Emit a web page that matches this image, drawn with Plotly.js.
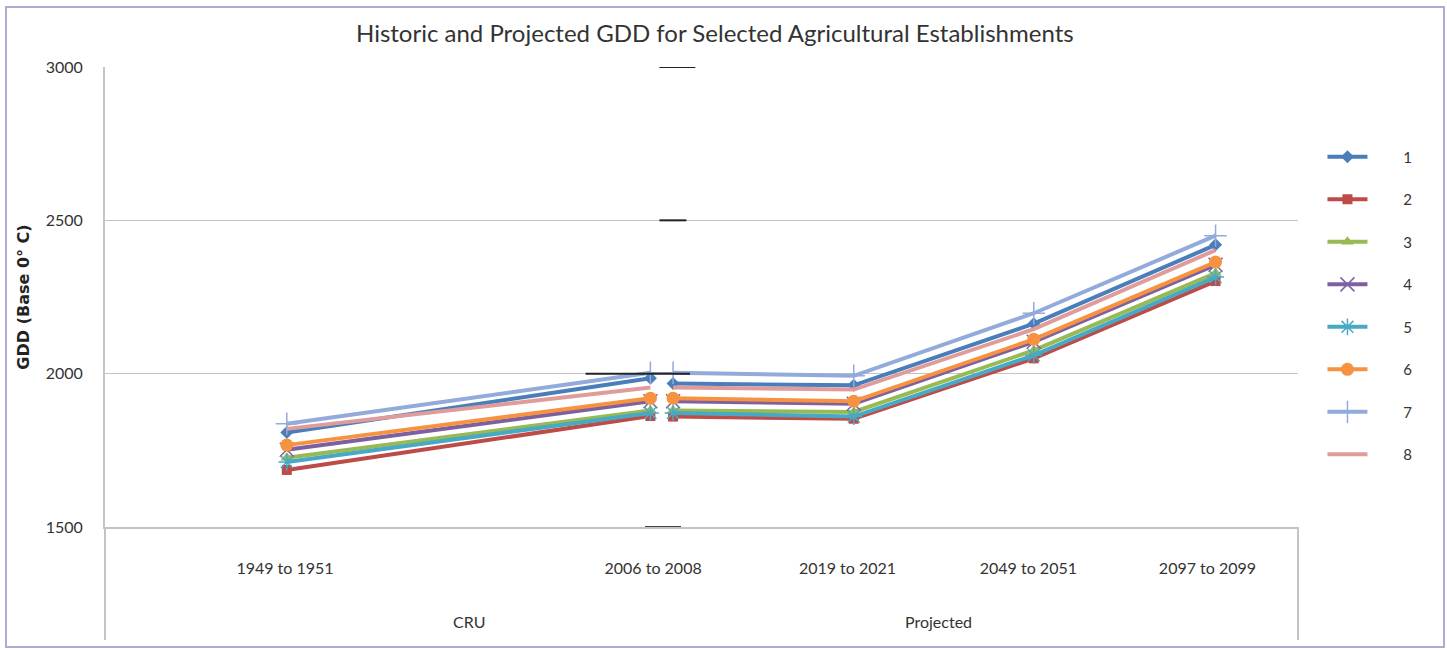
<!DOCTYPE html>
<html>
<head>
<meta charset="utf-8">
<script src="https://cdn.plot.ly/plotly-3.0.1.min.js"></script>
<style>
  html, body { margin: 0; padding: 0; background: #ffffff; }
  #chart { width: 1447px; height: 650px; }
</style>
</head>
<body>
<div id="chart"></div>
<script>
// Category positions along the period axis (CRU block, then Projected block)
const cruPos = [1.01, 3.03];
const projPos = [3.156, 4.16, 5.16, 6.17];
const periodLabelPos = [1.0, 3.045, 4.125, 5.13, 6.125];
const periodLabels = ['1949 to 1951', '2006 to 2008', '2019 to 2021', '2049 to 2051', '2097 to 2099'];
const groupLabels = ['CRU', 'Projected'];
const groupLabelPos = [2.02, 4.63];

const seriesNames = ['1', '2', '3', '4', '5', '6', '7', '8'];

// GDD (base 0 °C): CRU observations (1949-51, 2006-08)
const cru1 = [1808, 1985];
const cru2 = [1686, 1862];
const cru3 = [1726, 1880];
const cru4 = [1752, 1910];
const cru5 = [1712, 1872];
const cru6 = [1767, 1920];
const cru7 = [1837, 2003];
const cru8 = [1820, 1955];

// GDD (base 0 °C): projections (2006-08, 2019-21, 2049-51, 2097-99)
const proj1 = [1968, 1962, 2163, 2420];
const proj2 = [1860, 1853, 2050, 2302];
const proj3 = [1880, 1875, 2076, 2328];
const proj4 = [1910, 1902, 2104, 2355];
const proj5 = [1872, 1860, 2060, 2315];
const proj6 = [1920, 1910, 2112, 2364];
const proj7 = [2003, 1993, 2197, 2450];
const proj8 = [1955, 1948, 2145, 2403];

const cruSeries = [cru1, cru2, cru3, cru4, cru5, cru6, cru7, cru8];
const projSeries = [proj1, proj2, proj3, proj4, proj5, proj6, proj7, proj8];

const colors = ['#4A7EBB', '#BE4B48', '#98B954', '#7D60A0', '#46AAC5', '#F69240', '#92ABDB', '#E09C9B'];
const symbols = ['diamond', 'square', 'triangle-up', 'x-thin-open', 'asterisk-open', 'circle', 'cross-thin-open', 'circle'];
const sizes = [10, 10, 11, 14, 14, 13, 16, 0];

// legend entries sit a little away from their line samples
const legendPad = '&nbsp;'.repeat(8);

const traces = seriesNames.map((name, i) => ({
  type: 'scatter',
  mode: i === 7 ? 'lines' : 'lines+markers',
  name: legendPad + name,
  legendgroup: 'g' + i,
  x: cruPos.concat([null], projPos),
  y: cruSeries[i].concat([null], projSeries[i]),
  connectgaps: false,
  line: { color: colors[i], width: 4 },
  marker: {
    symbol: symbols[i],
    size: sizes[i],
    color: colors[i],
    line: { color: colors[i], width: (symbols[i].indexOf('open') >= 0) ? 1.5 : 0 }
  },
  hoverinfo: 'x+y+name'
}));

const fontFam = 'Lato, "Open Sans", sans-serif';
const textCol = '#333333';

// Below-axis extent of the category label block (paper units of the plot area)
const labelBottom = -0.2457;

const annotations = groupLabels.map((t, i) => ({
  text: t, xref: 'x', yref: 'paper', x: groupLabelPos[i], y: -0.205,
  showarrow: false, xanchor: 'center', yanchor: 'middle',
  font: { family: fontFam, size: 16, color: textCol }
}));

const shapes = [
  // outer chart frame
  { type: 'rect', xref: 'paper', yref: 'paper', x0: -0.083, x1: 1.1224, y0: -0.2609, y1: 1.1304,
    line: { color: '#ABABD3', width: 2 }, layer: 'below' },
  // left edge of the category label block
  { type: 'line', xref: 'paper', yref: 'paper', x0: 0, x1: 0, y0: 0, y1: labelBottom,
    line: { color: '#C4C4C4', width: 2 } },
  // right edge of the category label block
  { type: 'line', xref: 'paper', yref: 'paper', x0: 1, x1: 1, y0: 0, y1: labelBottom,
    line: { color: '#C4C4C4', width: 2 } },
  // dark stubs on the gridlines where the two blocks meet
  { type: 'line', xref: 'x', yref: 'y', x0: 3.08, x1: 3.28, y0: 3000, y1: 3000, line: { color: '#222', width: 2 } },
  { type: 'line', xref: 'x', yref: 'y', x0: 3.08, x1: 3.23, y0: 2500, y1: 2500, line: { color: '#222', width: 2 } },
  { type: 'line', xref: 'x', yref: 'y', x0: 2.67, x1: 3.25, y0: 2000, y1: 2000, line: { color: '#222', width: 2 } },
  { type: 'line', xref: 'x', yref: 'y', x0: 3.0, x1: 3.2, y0: 1500, y1: 1500, line: { color: '#444', width: 2 } }
];

const layout = {
  width: 1447,
  height: 650,
  margin: { l: 105, r: 149, t: 67, b: 123 },
  paper_bgcolor: '#ffffff',
  plot_bgcolor: '#ffffff',
  font: { family: fontFam, color: textCol },
  title: {
    text: 'Historic and Projected GDD for Selected Agricultural Establishments',
    font: { family: fontFam, size: 24, color: textCol },
    xref: 'container', x: 0.494, xanchor: 'center',
    yref: 'container', y: 0.949, yanchor: 'middle'
  },
  xaxis: {
    range: [0, 6.628],
    tickmode: 'array',
    tickvals: periodLabelPos,
    ticktext: periodLabels,
    ticks: '',
    ticklabelstandoff: 26,
    tickfont: { family: fontFam, size: 16, color: textCol },
    showgrid: false,
    zeroline: false,
    showline: true,
    linecolor: '#C4C4C4',
    linewidth: 2,
    fixedrange: true
  },
  yaxis: {
    range: [1500, 3000],
    tickmode: 'array',
    tickvals: [1500, 2000, 2500, 3000],
    ticktext: ['1500', '2000', '2500', '3000'],
    ticks: '',
    ticklabelstandoff: 17,
    tickfont: { family: fontFam, size: 16, color: textCol },
    showgrid: true,
    gridcolor: '#C4C4C4',
    gridwidth: 1.5,
    zeroline: false,
    showline: true,
    linecolor: '#C4C4C4',
    linewidth: 2,
    title: {
      text: '<b>GDD (Base 0° C)</b>',
      font: { family: '"DejaVu Sans", sans-serif', size: 16, color: '#222' },
      standoff: 12
    },
    fixedrange: true
  },
  legend: {
    x: 1.0205, xanchor: 'left',
    y: 0.84, yanchor: 'top',
    traceorder: 'grouped',
    tracegroupgap: 20,
    itemwidth: 40,
    font: { family: fontFam, size: 15, color: textCol },
    bgcolor: 'rgba(0,0,0,0)'
  },
  showlegend: true,
  annotations: annotations,
  shapes: shapes
};

Plotly.newPlot('chart', traces, layout, { displayModeBar: false, staticPlot: true });
</script>
</body>
</html>
